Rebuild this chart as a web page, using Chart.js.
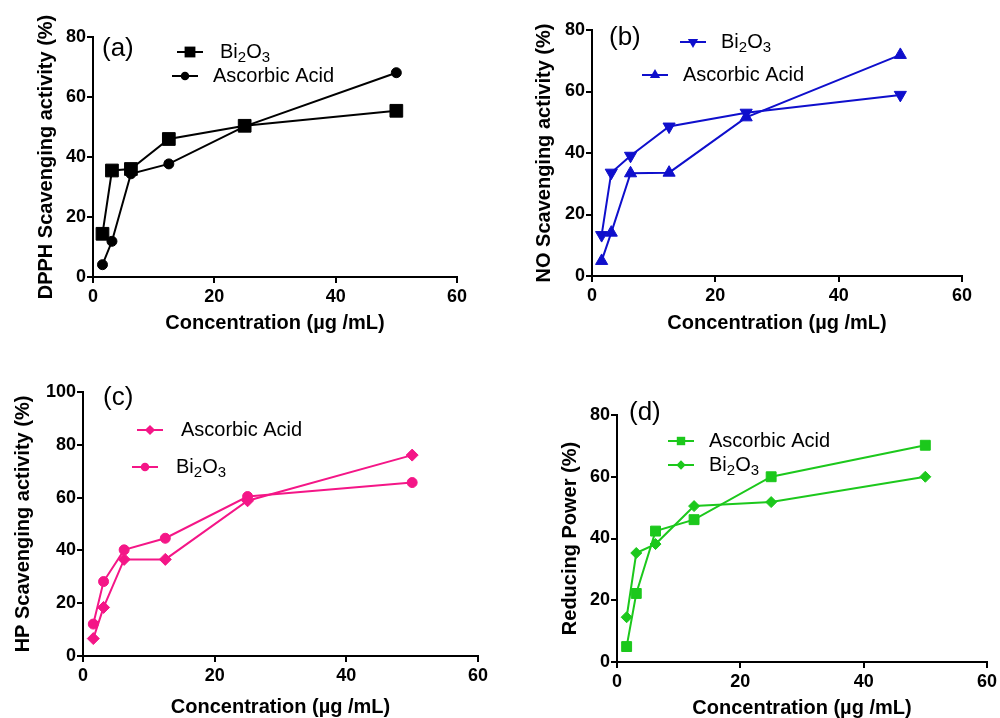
<!DOCTYPE html>
<html>
<head>
<meta charset="utf-8">
<script src="https://cdn.jsdelivr.net/npm/chart.js@4.4.1/dist/chart.umd.min.js"></script>
<style>
body { margin: 0; background: #fff; width: 1000px; height: 718px; overflow: hidden; position: relative; }
canvas { position: absolute; }
</style>
</head>
<body>
<canvas id="panelA" width="500" height="359" style="left:0;top:0"></canvas>
<canvas id="panelB" width="500" height="359" style="left:500px;top:0"></canvas>
<canvas id="panelC" width="500" height="362" style="left:0;top:359px"></canvas>
<canvas id="panelD" width="500" height="362" style="left:500px;top:359px"></canvas>
<script>
// concentrations in ug/mL
const concentration = [1.5625, 3.125, 6.25, 12.5, 25, 50];

// (a) DPPH
const dpphBi2O3 = [14.4, 35.5, 36.0, 46.0, 50.4, 55.4];
const dpphAscorbic = [4.1, 11.9, 34.4, 37.7, 50.2, 68.1];
// (b) NO
const noBi2O3 = [13.3, 33.6, 39.1, 48.6, 53.1, 58.9];
const noAscorbic = [4.9, 14.1, 33.4, 33.6, 51.6, 71.9];
// (c) HP
const hpAscorbic = [6.6, 18.4, 36.6, 36.6, 58.8, 76.1];
const hpBi2O3 = [12.1, 28.2, 40.2, 44.6, 60.4, 65.7];
// (d) reducing power
const rpAscorbic = [5.0, 22.2, 42.4, 46.1, 60.0, 70.2];
const rpBi2O3 = [14.5, 35.3, 38.2, 50.5, 51.8, 60.0];

const xRange = [0, 60];
const tickStep = 20;

const FONT = '"Liberation Sans", Arial, sans-serif';
Chart.defaults.font.family = FONT;
Chart.defaults.color = '#000';

function points(ys) {
    return concentration.map((x, i) => ({ x: x, y: ys[i] }));
}

// draws "Bi2O3" with the digits as subscripts
function drawChemText(ctx, text, x, y) {
    const parts = text.split(/(\d+)/);
    let cx = x;
    parts.forEach(p => {
        if (!p) return;
        if (/^\d+$/.test(p)) {
            ctx.font = '15px ' + FONT;
            ctx.fillText(p, cx, y + 6);
        } else {
            ctx.font = '20px ' + FONT;
            ctx.fillText(p, cx, y);
        }
        cx += ctx.measureText(p).width;
    });
}

const panelDecor = {
    id: 'panelDecor',
    afterDraw(chart, args, opts) {
        const ctx = chart.ctx;
        ctx.save();
        ctx.fillStyle = '#000';
        ctx.textBaseline = 'middle';
        ctx.textAlign = 'left';
        ctx.font = '26px ' + FONT;
        ctx.fillText(opts.tag, opts.tagX, opts.tagY);
        chart.data.datasets.forEach((ds, i) => {
            const p = opts.legend[i];
            ctx.strokeStyle = ds.borderColor;
            ctx.lineWidth = 2;
            ctx.beginPath();
            ctx.moveTo(p.x - 13, p.y);
            ctx.lineTo(p.x + 13, p.y);
            ctx.stroke();
            ctx.fillStyle = ds.borderColor;
            Chart.helpers.drawPoint(ctx, {
                pointStyle: ds.pointStyle,
                radius: ds.pointRadius * 0.85,
                rotation: ds.pointRotation || 0,
                borderWidth: 0
            }, p.x, p.y);
            ctx.fillStyle = '#000';
            drawChemText(ctx, ds.label, p.tx, p.y);
        });
        ctx.restore();
    }
};

function series(label, ys, color, style, radius, rotation) {
    return {
        label: label,
        data: points(ys),
        showLine: true,
        borderColor: color,
        backgroundColor: color,
        pointBackgroundColor: color,
        pointBorderColor: color,
        pointBorderWidth: 1,
        borderWidth: 2,
        pointStyle: style,
        pointRadius: radius,
        pointRotation: rotation || 0,
        tension: 0
    };
}

function makePanel(id, cfg) {
    const canvas = document.getElementById(id);
    const W = canvas.width, H = canvas.height;
    const lh = 20 * 1.1;
    const padLeft = cfg.yTitleX - lh / 2;
    const xHeight = cfg.xTitleY - cfg.area.b + lh / 2;
    const axisGrid = {
        display: true,
        drawOnChartArea: false,
        drawTicks: true,
        tickLength: 6,
        color: '#000',
        lineWidth: 2
    };
    const axisBorder = { display: true, color: '#000', width: 2 };
    const titleFont = { size: 20, weight: 'bold', lineHeight: 1.1 };

    new Chart(canvas, {
        type: 'scatter',
        data: { datasets: cfg.datasets },
        options: {
            responsive: false,
            animation: false,
            events: [],
            layout: {
                padding: {
                    left: padLeft,
                    top: cfg.area.t,
                    right: W - cfg.area.r,
                    bottom: H - cfg.area.b - xHeight
                }
            },
            scales: {
                x: {
                    type: 'linear',
                    min: xRange[0],
                    max: xRange[1],
                    ticks: { stepSize: tickStep, font: { size: 18, weight: 'bold' }, padding: 3 },
                    grid: axisGrid,
                    border: axisBorder,
                    title: { display: true, text: 'Concentration (µg /mL)', font: titleFont, padding: 0 },
                    afterFit(scale) { scale.height = xHeight; }
                },
                y: {
                    type: 'linear',
                    min: 0,
                    max: cfg.yMax,
                    ticks: { stepSize: tickStep, font: { size: 18, weight: 'bold' }, padding: 1 },
                    grid: axisGrid,
                    border: axisBorder,
                    title: { display: true, text: cfg.yTitle, font: titleFont, padding: 0 },
                    afterFit(scale) { scale.width = cfg.area.l - padLeft; }
                }
            },
            plugins: {
                legend: { display: false },
                tooltip: { enabled: false },
                panelDecor: cfg.decor
            }
        },
        plugins: [panelDecor]
    });
}

const BLACK = '#000000';
const BLUE = '#0f0fcc';
const PINK = '#f41687';
const GREEN = '#1cc81c';

makePanel('panelA', {
    area: { l: 93, t: 37, r: 457, b: 277 },
    yTitleX: 46, xTitleY: 323, yMax: 80,
    yTitle: 'DPPH Scavenging activity (%)',
    datasets: [
        series('Bi2O3', dpphBi2O3, BLACK, 'rect', 9),
        series('Ascorbic Acid', dpphAscorbic, BLACK, 'circle', 5)
    ],
    decor: {
        tag: '(a)', tagX: 102, tagY: 49,
        legend: [{ x: 190, y: 52, tx: 220 }, { x: 185, y: 76, tx: 213 }]
    }
});

makePanel('panelB', {
    area: { l: 92, t: 30, r: 462, b: 276 },
    yTitleX: 44, xTitleY: 323, yMax: 80,
    yTitle: 'NO Scavenging activity (%)',
    datasets: [
        series('Bi2O3', noBi2O3, BLUE, 'triangle', 7, 180),
        series('Ascorbic Acid', noAscorbic, BLUE, 'triangle', 7)
    ],
    decor: {
        tag: '(b)', tagX: 109, tagY: 38,
        legend: [{ x: 193, y: 42, tx: 221 }, { x: 155, y: 75, tx: 183 }]
    }
});

makePanel('panelC', {
    area: { l: 83, t: 33, r: 478, b: 297 },
    yTitleX: 23, xTitleY: 348, yMax: 100,
    yTitle: 'HP Scavenging activity (%)',
    datasets: [
        series('Ascorbic Acid', hpAscorbic, PINK, 'rectRot', 6),
        series('Bi2O3', hpBi2O3, PINK, 'circle', 5)
    ],
    decor: {
        tag: '(c)', tagX: 103, tagY: 39,
        legend: [{ x: 150, y: 71, tx: 181 }, { x: 145, y: 108, tx: 176 }]
    }
});

makePanel('panelD', {
    area: { l: 117, t: 56, r: 488, b: 303 },
    yTitleX: 70, xTitleY: 349, yMax: 80,
    yTitle: 'Reducing Power (%)',
    datasets: [
        series('Ascorbic Acid', rpAscorbic, GREEN, 'rect', 7),
        series('Bi2O3', rpBi2O3, GREEN, 'rectRot', 5.5)
    ],
    decor: {
        tag: '(d)', tagX: 129, tagY: 54,
        legend: [{ x: 181, y: 82, tx: 209 }, { x: 181, y: 106, tx: 209 }]
    }
});
</script>
</body>
</html>
